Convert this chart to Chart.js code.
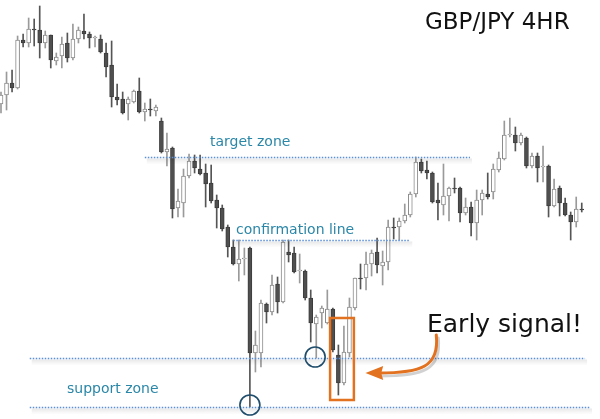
<!DOCTYPE html>
<html>
<head>
<meta charset="utf-8">
<script src="https://cdn.jsdelivr.net/npm/chart.js@4"></script>
<style>
  html, body { margin: 0; padding: 0; background: #fff; }
  #wrap { width: 600px; height: 419px; }
</style>
</head>
<body>
<div id="wrap"><canvas id="chart" width="600" height="419"></canvas></div>
<script>
// ======================
// CANDLE DATA (arbitrary price units)
// ======================
const open = [315,324,336,331,379,376,390,389,376,384,358,363,376,361,380,388,385,381,380,366,
  354,322,320,315,317,328,307,310,308,298,267,271,211,216,243,258,250,246,236,219,
  211,192,172,155,160,171,66,66,115,107,135,117,167,166,148,148,121,95,106,96,
  110,64,36,66,111,141,141,155,167,153,157,192,192,198,204,225,257,249,246,219,
  214,223,231,231,206,212,196,219,225,227,249,260,284,284,276,281,253,263,252,253,
  213,231,216,204,197,210];
const high = [327,347,349,383,385,401,400,413,388,384,366,382,386,395,392,405,387,383,384,376,
  378,335,327,322,329,341,316,320,314,301,286,272,230,250,265,264,264,255,254,224,
  214,194,179,179,171,172,88,119,116,144,142,179,179,172,165,149,129,104,113,129,
  111,74,93,121,141,155,167,169,181,168,199,201,201,215,227,262,260,258,247,236,
  255,232,241,232,221,217,229,229,246,255,267,298,301,292,286,282,266,266,273,254,
  240,233,221,207,222,216];
const low = [306,309,327,330,372,372,373,361,371,351,354,351,357,359,376,380,371,372,366,342,
  312,314,305,299,316,306,298,303,303,266,253,201,202,202,241,246,244,212,216,191,
  188,162,154,138,144,12,47,52,96,104,106,116,157,146,136,119,77,61,91,95,
  67,24,34,62,109,130,129,143,146,134,149,180,179,196,202,222,246,240,216,199,
  204,198,226,197,204,183,179,204,220,220,247,259,282,268,274,251,251,237,237,202,
  212,203,203,179,192,207];
const close = [324,336,331,379,376,390,389,376,384,359,362,375,361,380,389,385,381,382,367,352,
  322,319,306,320,328,307,310,309,312,267,270,210,218,243,258,251,245,235,218,211,
  190,172,155,160,161,66,74,116,107,134,117,177,164,147,149,121,96,102,111,110,
  69,36,67,112,141,140,155,166,154,157,192,191,198,204,225,257,248,246,217,216,
  223,231,230,206,212,196,219,226,222,250,261,284,285,276,284,253,263,251,253,213,
  230,216,204,197,210,209];

// reference levels (candle index range / price units)
const levelValues = [262, 179, 61, 12];
const levelFrom = [26, 42, 5.2, 5.2];
const levelTo = [84.8, 74, 105.6, 106.5];

const idx = open.map((_, i) => i);
const up = open.map((o, i) => close[i] >= o);

// ======================
// ANNOTATIONS PLUGIN
// ======================
const annotations = {
  id: "annotations",
  afterDatasetsDraw(chart) {
    const ctx = chart.ctx;
    const x = chart.scales.x, y = chart.scales.y;
    const px = v => x.getPixelForValue(v);
    const py = v => y.getPixelForValue(v);

    ctx.save();
    // dotted levels with soft shadow below
    levelValues.forEach((lv, i) => {
      const x0 = px(levelFrom[i]), x1 = px(levelTo[i]), yy = Math.round(py(lv)) + 0.5;
      const g = ctx.createLinearGradient(0, yy, 0, yy + 7);
      g.addColorStop(0, "rgba(0,0,0,0.10)");
      g.addColorStop(1, "rgba(0,0,0,0)");
      ctx.fillStyle = g;
      ctx.fillRect(x0 + 2, yy + 1, x1 - x0, 6);
      ctx.strokeStyle = "#5b8fd9";
      ctx.lineWidth = 1.5;
      ctx.setLineDash([1.5, 1.5]);
      ctx.beginPath();
      ctx.moveTo(x0, yy);
      ctx.lineTo(x1, yy);
      ctx.stroke();
    });
    ctx.setLineDash([]);

    // circles at the two lows
    ctx.strokeStyle = "#1f4d6b";
    ctx.lineWidth = 1.6;
    [[45, 14], [56.8, 62]].forEach(([ci, cv]) => {
      ctx.beginPath();
      ctx.arc(px(ci), py(cv), 10, 0, Math.PI * 2);
      ctx.stroke();
    });

    // orange box round the early signal candles
    ctx.strokeStyle = "#e2721f";
    ctx.lineWidth = 2.5;
    ctx.strokeRect(px(59.5), py(101), px(63.8) - px(59.5), py(19) - py(101));

    // curved arrow
    const sx = px(78.7), sy = py(84);
    const c1x = px(79.3), c1y = py(52);
    const c2x = px(76), c2y = py(46);
    const ex = px(68.2), ey = py(46);
    ctx.lineCap = "round";
    ctx.strokeStyle = "rgba(0,0,0,0.18)";
    ctx.lineWidth = 3;
    ctx.beginPath();
    ctx.moveTo(sx + 2, sy + 3);
    ctx.bezierCurveTo(c1x + 2, c1y + 3, c2x + 2, c2y + 3, ex + 2, ey + 3);
    ctx.stroke();
    ctx.strokeStyle = "#e2721f";
    ctx.beginPath();
    ctx.moveTo(sx, sy);
    ctx.bezierCurveTo(c1x, c1y, c2x, c2y, ex, ey);
    ctx.stroke();
    ctx.fillStyle = "#e2721f";
    ctx.beginPath();
    ctx.moveTo(px(65.9), ey);
    ctx.lineTo(ex + 5, ey - 7);
    ctx.lineTo(ex + 3, ey);
    ctx.lineTo(ex + 5, ey + 7);
    ctx.closePath();
    ctx.fill();

    // texts
    ctx.textBaseline = "alphabetic";
    ctx.fillStyle = "#2b87a8";
    ctx.font = "14px 'DejaVu Sans'";
    ctx.fillText("target zone", 210, 146);
    ctx.fillText("confirmation line", 236, 234);
    ctx.fillText("support zone", 67, 393);
    ctx.fillStyle = "#111";
    ctx.font = "23px 'DejaVu Sans'";
    ctx.fillText("GBP/JPY 4HR", 425, 29);
    ctx.font = "25px 'DejaVu Sans'";
    ctx.fillText("Early signal!", 427, 332);
    ctx.restore();
  }
};

// ======================
// CHART
// ======================
new Chart(document.getElementById("chart"), {
  type: "bar",
  data: {
    datasets: [
      {
        label: "wick",
        data: idx.map(i => ({ x: i, y: [low[i], high[i]] })),
        backgroundColor: up.map(u => u ? "#9a9a9a" : "#555"),
        barThickness: 1,
        grouped: false,
        order: 2
      },
      {
        label: "body",
        data: idx.map(i => ({ x: i, y: [open[i], close[i]] })),
        backgroundColor: up.map(u => u ? "#ffffff" : "#4f4f4f"),
        borderColor: up.map(u => u ? "#8a8a8a" : "#3c3c3c"),
        borderWidth: 1,
        borderSkipped: false,
        barThickness: 4,
        grouped: false,
        order: 1
      }
    ]
  },
  options: {
    responsive: false,
    animation: false,
    layout: { padding: 0 },
    plugins: { legend: { display: false }, tooltip: { enabled: false } },
    scales: {
      x: { type: "linear", min: -0.18, max: 108.3, offset: false, display: false },
      y: { min: 0, max: 419, display: false }
    }
  },
  plugins: [annotations]
});
</script>
</body>
</html>
